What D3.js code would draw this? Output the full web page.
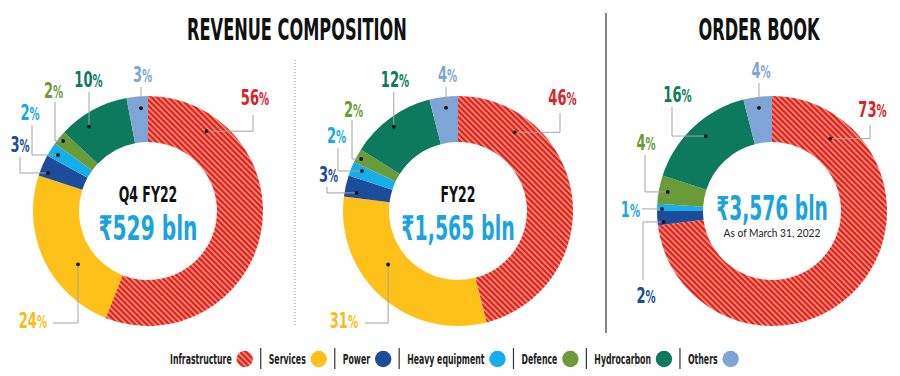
<!DOCTYPE html>
<html>
<head>
<meta charset="utf-8">
<script src="https://cdn.jsdelivr.net/npm/d3@7"></script>
<style>
  body { margin: 0; background: #fff; }
  text { font-family: 'Liberation Sans Narrow', 'DejaVu Sans Condensed', sans-serif; }
</style>
</head>
<body>
<script>
var width = 900;
var height = 376;

// data
var categories = ["Infrastructure", "Services", "Power", "Heavy equipment", "Defence", "Hydrocarbon", "Others"];
var q4Values = [56, 24, 3, 2, 2, 10, 3];
var fy22Values = [46, 31, 3, 2, 2, 12, 4];
var orderValues = [73, 0, 2, 1, 4, 16, 4];
var fills = ["url(#stripes)", "#fdc11a", "#1c4d9a", "#16aeea", "#6b9b38", "#0d7a5d", "#7ea5d6"];
var labelColors = ["#dc2128", "#f8bd16", "#1c4d9a", "#16a9e6", "#6b9b38", "#0d7a5d", "#7ea5d6"];

// label layout per slice: dot position within slice, leader shape, text position (relative to centre)
var q4Layout = [
    { t: 0.18, r: 99, mode: "hv", x: 105, y: -96, tx: 107, ty: -106, a: "middle" },
    { t: 0.36, r: 88, mode: "vh", x: -95, y: 112, tx: -101, ty: 117, a: "end" },
    { t: 0.26, r: 107, mode: "hv", x: -128, y: -54, tx: -128, ty: -59, a: "middle" },
    { t: 0.43, r: 106, mode: "hv", x: -116, y: -86, tx: -118, ty: -91, a: "middle" },
    { t: 0.49, r: 110, mode: "hv", x: -93, y: -109, tx: -94.5, ty: -113, a: "middle" },
    { t: 0.33, r: 103, mode: "v", y: -119, tx: -59.5, ty: -124, a: "middle" },
    { t: 0.64, r: 103, mode: "v", y: -124, tx: -5.5, ty: -129, a: "middle" }
];
var fy22Layout = [
    { t: 0.216, r: 97, mode: "hv", x: 102, y: -98, tx: 104.5, ty: -106, a: "middle" },
    { t: 0.6, r: 88, mode: "vh", x: -93, y: 112, tx: -100, ty: 117, a: "end" },
    { t: 0.27, r: 103, mode: "hv", x: -131, y: -24, tx: -129.5, ty: -29, a: "middle" },
    { t: 0.64, r: 104, mode: "hv", x: -120, y: -63, tx: -121.5, ty: -68, a: "middle" },
    { t: 0.42, r: 110, mode: "hv", x: -106, y: -91, tx: -104.5, ty: -94, a: "middle" },
    { t: 0.47, r: 106, mode: "v", y: -119, tx: -63, ty: -124, a: "middle" },
    { t: 0.54, r: 104, mode: "v", y: -124, tx: -10.5, ty: -129, a: "middle" }
];
var orderLayout = [
    { t: 0.148, r: 93, mode: "hv", x: 98, y: -86, tx: 100.5, ty: -94, a: "middle" },
    null,
    { t: 0.2, r: 109, mode: "hv", x: -129, y: 69, tx: -126, ty: 92, a: "middle" },
    { t: 0.3, r: 110, mode: "h", x: -130, tx: -132, ty: 6, a: "end" },
    { t: 0.47, r: 106, mode: "hv", x: -127, y: -56, tx: -126, ty: -61, a: "middle" },
    { t: 0.53, r: 100, mode: "hv", x: -100, y: -104, tx: -94.5, ty: -109, a: "middle" },
    { t: 0.5, r: 104, mode: "v", y: -128, tx: -11, ty: -133, a: "middle" }
];

var svg = d3.select("body").append("svg")
    .attr("width", width)
    .attr("height", height);

// condensed text: the fallback font is too wide, so squeeze it horizontally
function ctext(parent, x, y, k) {
    return parent.append("text")
        .attr("transform", "translate(" + x + "," + y + ") scale(" + k + ",1)");
}

var defs = svg.append("defs");
var pat = defs.append("pattern")
    .attr("id", "stripes")
    .attr("patternUnits", "userSpaceOnUse")
    .attr("width", 4)
    .attr("height", 4)
    .attr("patternTransform", "rotate(-45)");
pat.append("rect").attr("width", 4).attr("height", 4).attr("fill", "#e01e26");
pat.append("rect").attr("x", 0).attr("width", 1.5).attr("height", 4).attr("fill", "#f9a47a");

var outerR = 115, innerR = 69;
var pie = d3.pie().sort(null).value(function(d) { return d; });
var arc = d3.arc().innerRadius(innerR).outerRadius(outerR);

function donut(cx, cy, values, layout, lines) {
    var g = svg.append("g").attr("transform", "translate(" + cx + "," + cy + ")");
    var arcs = pie(values);
    arcs.forEach(function(d, i) { d.index = i; });

    g.selectAll("path.slice")
        .data(arcs.filter(function(d) { return d.value > 0; }))
        .enter().append("path")
            .attr("class", "slice")
            .attr("d", arc)
            .attr("fill", function(d) { return fills[d.index]; });

    arcs.forEach(function(d) {
        var L = layout[d.index];
        if (!L) return;
        var ang = d.startAngle + L.t * (d.endAngle - d.startAngle);
        var px = L.r * Math.sin(ang), py = -L.r * Math.cos(ang);
        var pts = [[px, py]];
        if (L.mode === "hv") pts.push([L.x, py], [L.x, L.y]);
        else if (L.mode === "vh") pts.push([px, L.y], [L.x, L.y]);
        else if (L.mode === "v") pts.push([px, L.y]);
        else if (L.mode === "h") pts.push([L.x, py]);
        g.append("path")
            .attr("d", d3.line()(pts))
            .attr("fill", "none")
            .attr("stroke", "#a3a3a3")
            .attr("stroke-width", 1);
        g.append("circle")
            .attr("cx", px).attr("cy", py).attr("r", 1.9)
            .attr("fill", "#111");
        var t = ctext(g, L.tx, L.ty, 0.66)
            .attr("text-anchor", L.a)
            .attr("fill", labelColors[d.index])
            .attr("font-weight", "bold")
            .attr("font-size", 22)
            .text(d.value);
        t.append("tspan").attr("font-size", 17).text("%");
    });

    lines.forEach(function(l) {
        ctext(g, 0, l.y, l.k)
            .attr("text-anchor", "middle")
            .attr("fill", l.color)
            .attr("font-weight", l.weight)
            .attr("font-size", l.size)
            .style("font-family", l.family || null)
            .text(l.text);
    });
}

donut(148, 211, q4Values, q4Layout, [
    { text: "Q4 FY22", y: -9, color: "#111", weight: "bold", size: 21, k: 0.66 },
    { text: "₹529 bln", y: 29, color: "#1aa3e0", weight: "bold", size: 34, k: 0.66 }
]);
donut(458, 211, fy22Values, fy22Layout, [
    { text: "FY22", y: -9, color: "#111", weight: "bold", size: 21, k: 0.66 },
    { text: "₹1,565 bln", y: 29, color: "#1aa3e0", weight: "bold", size: 34, k: 0.62 }
]);
donut(772, 211, orderValues, orderLayout, [
    { text: "₹3,576 bln", y: 9, color: "#1aa3e0", weight: "bold", size: 33, k: 0.63 },
    { text: "As of March 31, 2022", y: 26, color: "#222", weight: "normal", size: 10.5, k: 0.97, family: "Lato, 'Liberation Sans', sans-serif" }
]);

// titles
ctext(svg, 297, 40, 0.6).attr("text-anchor", "middle")
    .attr("font-weight", "bold").attr("font-size", 30).attr("fill", "#111")
    .text("REVENUE COMPOSITION");
ctext(svg, 759, 40, 0.6).attr("text-anchor", "middle")
    .attr("font-weight", "bold").attr("font-size", 30).attr("fill", "#111")
    .text("ORDER BOOK");

// dividers
svg.append("line").attr("x1", 295).attr("x2", 295).attr("y1", 60).attr("y2", 325)
    .attr("stroke", "#888").attr("stroke-dasharray", "1,2");
svg.append("line").attr("x1", 606).attr("x2", 606).attr("y1", 13).attr("y2", 333)
    .attr("stroke", "#333").attr("stroke-width", 1.2);

// legend
var legend = svg.append("g").attr("transform", "translate(0,359)");
var lk = 0.62;
var lx = 170;
categories.forEach(function(c, i) {
    var t = ctext(legend, lx, 5, lk)
        .attr("font-size", 14).attr("font-weight", "bold").attr("fill", "#222")
        .text(c);
    var w = t.node().getComputedTextLength() * lk;
    lx += w + 13;
    legend.append("circle").attr("cx", lx).attr("cy", 0).attr("r", 8.2).attr("fill", fills[i]);
    lx += 16;
    if (i < categories.length - 1) {
        legend.append("line").attr("x1", lx).attr("x2", lx).attr("y1", -11).attr("y2", 10)
            .attr("stroke", "#333").attr("stroke-width", 1.2);
        lx += 8;
    }
});
</script>
</body>
</html>
